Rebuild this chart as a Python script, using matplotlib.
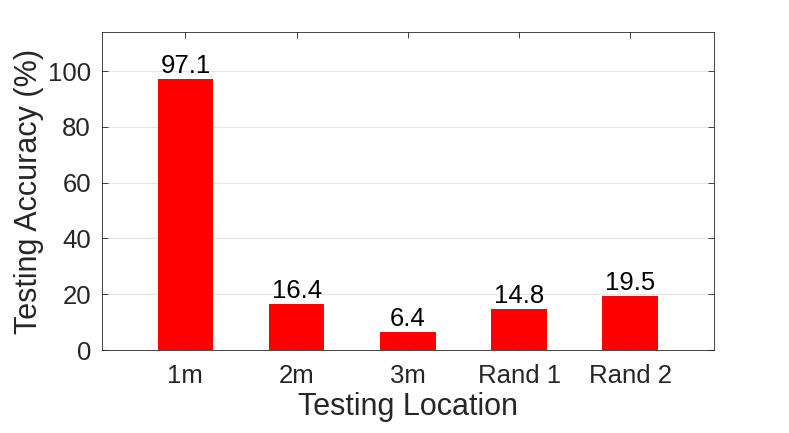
import matplotlib
matplotlib.use("Agg")
import matplotlib.pyplot as plt
import numpy as np

locations = ["1m", "2m", "3m", "Rand 1", "Rand 2"]
accuracy = [97.1, 16.4, 6.4, 14.8, 19.5]

plt.rcParams['font.family'] = ['Liberation Sans', 'DejaVu Sans']

fig = plt.figure(figsize=(7.89, 4.33), dpi=100)
# axes box placed to match the reference pixels
ax = fig.add_axes([102/789, 1 - 350/433, 611.7/789, 318/433])

x = np.arange(1, len(locations) + 1)
ax.bar(x, accuracy, width=0.5, color='#ff0000', zorder=3)
for xi, v in zip(x, accuracy):
    ax.text(xi, v + 0.3, f"{v}", ha='center', va='bottom', fontsize=18.5, color='black', zorder=4)

ax.set_xlim(0.25, 5.75)
ax.set_ylim(0, 114)
ax.set_xticks(x)
ax.set_xticklabels(locations)
ax.set_yticks([0, 20, 40, 60, 80, 100])
ax.yaxis.grid(True, color='#e6e6e6', linewidth=0.8, zorder=0)
ax.tick_params(direction='in', top=True, right=True, labelsize=18.5, colors='#262626',
               length=4.5, width=0.6, pad=8)
ax.tick_params(axis='x', pad=10)
for s in ax.spines.values():
    s.set_color('#262626')
    s.set_linewidth(0.6)
ax.set_xlabel("Testing Location", fontsize=22, color='#262626', labelpad=3)
ax.set_ylabel("Testing Accuracy (%)", fontsize=22, color='#262626', labelpad=3)

fig.savefig("out.png", dpi=100)
